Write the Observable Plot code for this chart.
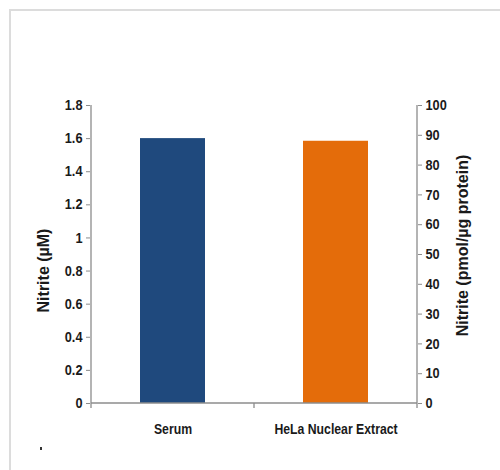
<!DOCTYPE html>
<html><head><meta charset="utf-8">
<script src="https://cdn.jsdelivr.net/npm/d3@7"></script>
<script src="https://cdn.jsdelivr.net/npm/@observablehq/plot@0.6"></script>
<style>
body{margin:0;background:#fff;}
#wrap{position:relative;width:500px;height:470px;overflow:hidden;background:#fff;}
#border{position:absolute;left:9px;top:9px;width:600px;height:600px;border-top:2px solid #dcdcdc;border-left:2px solid #dcdcdc;}
#chart{position:absolute;left:0;top:0;}
#speck{position:absolute;left:40px;top:447px;width:2px;height:3px;background:#333;}
</style></head><body>
<div id="wrap"><div id="border"></div><div id="chart"></div><div id="speck"></div></div>
<script>
const categories = ["Serum", "HeLa Nuclear Extract"];
const values = [1.6, 88];            // Serum in µM (left axis), HeLa in pmol/µg protein (right axis)
const onRightAxis = [false, true];
const colors = ["#1F497D", "#E46C0A"];
const leftTicks = [0, 0.2, 0.4, 0.6, 0.8, 1, 1.2, 1.4, 1.6, 1.8];
const rightTicks = [0, 10, 20, 30, 40, 50, 60, 70, 80, 90, 100];
const leftTitle = "Nitrite (µM)";
const rightTitle = "Nitrite (pmol/µg protein)";

const leftMax = leftTicks[leftTicks.length - 1];
const rightMax = rightTicks[rightTicks.length - 1];
const toLeft = v => v * leftMax / rightMax;

const data = categories.map((c, i) => ({
  category: c,
  y: onRightAxis[i] ? toLeft(values[i]) : values[i],
  color: colors[i]
}));

const gray = "#8c8c8c";
const font = "'Liberation Sans', Arial, sans-serif";

function axisLines(index, scales) {
  const {x, y} = scales;
  const bw = typeof x.bandwidth === "function" ? x.bandwidth() : x.bandwidth;
  const y0 = y(0), yTop = y(leftMax);
  const bounds = categories.map(c => x(c));
  bounds.push(x(categories[categories.length - 1]) + bw);
  const xl = bounds[0], xr = bounds[bounds.length - 1];
  const g = d3.create("svg:g").attr("stroke", gray).attr("stroke-width", 1.3).attr("fill", "none");
  g.append("line").attr("x1", xl).attr("x2", xr).attr("y1", y0).attr("y2", y0);
  g.append("line").attr("x1", xl).attr("x2", xl).attr("y1", y0).attr("y2", yTop);
  g.append("line").attr("x1", xr).attr("x2", xr).attr("y1", y0).attr("y2", yTop);
  for (const b of bounds) g.append("line").attr("x1", b).attr("x2", b).attr("y1", y0).attr("y2", y0 + 5);
  return g.node();
}

const chart = Plot.plot({
  width: 500,
  height: 470,
  marginLeft: 90,
  marginRight: 83,
  marginTop: 105,
  marginBottom: 67,
  style: {fontFamily: font, fontWeight: "bold", fontSize: "14.5px", color: "#1a1a1a", background: "transparent"},
  x: {domain: categories, padding: 0, axis: null},
  y: {domain: [0, leftMax], axis: null},
  color: {type: "identity"},
  marks: [
    Plot.barY(data, {x: "category", y: "y", fill: "color", insetLeft: 49, insetRight: 49}),
    axisLines,
    Plot.axisY(leftTicks, {anchor: "left", tickSize: 4, tickPadding: 4, stroke: gray, tickFormat: d => String(+d.toFixed(1)), label: null}),
    Plot.axisY(rightTicks.map(toLeft), {anchor: "right", tickSize: 4, tickPadding: 4, stroke: gray, tickFormat: d => String(Math.round(d * rightMax / leftMax)), label: null}),
    Plot.axisX({anchor: "bottom", tickSize: 0, tickPadding: 19, fontSize: 15.5, label: null}),
    Plot.text([leftTitle], {frameAnchor: "left", textAnchor: "middle", rotate: -90, dx: -47, dy: 16, fontSize: 16, fontWeight: "bold", fill: "#1a1a1a"}),
    Plot.text([rightTitle], {frameAnchor: "right", textAnchor: "middle", rotate: -90, dx: 45, dy: -9, fontSize: 16, fontWeight: "bold", fill: "#1a1a1a"})
  ]
});
document.getElementById("chart").appendChild(chart);

// condense the label glyphs horizontally, like the narrow face of the reference
function condense(selector, k) {
  chart.querySelectorAll(selector).forEach(t => {
    const L = t.getComputedTextLength();
    if (L > 0) {
      t.setAttribute("textLength", (L * k).toFixed(2));
      t.setAttribute("lengthAdjust", "spacingAndGlyphs");
    }
  });
}
condense('g[aria-label="y-axis tick label"] text', 0.88);
condense('g[aria-label="x-axis tick label"] text', 0.79);
</script>
</body></html>
